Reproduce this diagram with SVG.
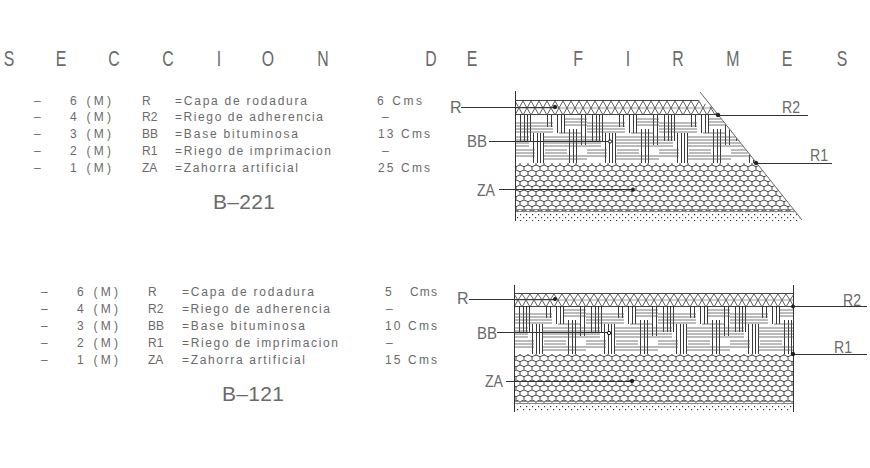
<svg xmlns="http://www.w3.org/2000/svg" width="870" height="468" viewBox="0 0 870 468">
<style>
text{font-family:"Liberation Sans",Arial,sans-serif;fill:#6a6a6a;font-size:12px}
.t{font-size:22px;text-anchor:middle}
.b{font-size:21px}
.l{font-size:16px}
.k{fill:none;stroke:#333;stroke-width:1}
.g{fill:none;stroke:#666;stroke-width:1}
.d{fill:#222;stroke:#111;stroke-width:.8}
.h{fill:#fff;stroke:#111;stroke-width:1}
</style>
<defs>
<pattern id="pR" width="8" height="15" patternUnits="userSpaceOnUse" x="515" y="100">
<path d="M0 1L4 8L8 1M0 15L4 8L8 15" fill="none" stroke="#333" stroke-width=".8"/>
<path d="M0 .5H8M0 14.5H8" stroke="#444" stroke-width="1"/>
<path d="M0 8H8" stroke="#777" stroke-width=".7"/>
</pattern>
<pattern id="pR2" width="8" height="14" patternUnits="userSpaceOnUse" x="514" y="293">
<path d="M0 1L4 7L8 1M0 14L4 7L8 14" fill="none" stroke="#333" stroke-width=".8"/>
<path d="M0 .5H8M0 13.5H8" stroke="#444" stroke-width="1"/>
<path d="M0 7H8" stroke="#777" stroke-width=".7"/>
</pattern>
<pattern id="pH" width="8" height="10" patternUnits="userSpaceOnUse">
<path d="M0 1.67L4 0L8 1.67M0 1.67V5L4 6.67L8 5V1.67M4 6.67V10" fill="none" stroke="#333" stroke-width=".9"/>
</pattern>
<pattern id="pD" width="6" height="6" patternUnits="userSpaceOnUse">
<rect x="1" y="1" width="1.2" height="1.2" fill="#333"/><rect x="4" y="4" width="1.2" height="1.2" fill="#333"/>
</pattern>
<g id="plaid">
<path d="M5.5 0V26M9.5 0V26M12.5 0V26M15.5 0V26M42.5 0V18M46.5 0V18M49.5 0V18M18.5 18V48M22.5 18V48M25.5 18V48M28.5 18V48M54.5 14V48M58.5 14V48M61.5 14V48M32.5 0V12M36.5 0V12M66.5 0V30M70.5 0V30" stroke="#222" stroke-width=".9" fill="none"/>
<path d="M0 8H38M0 11H38M0 14H38M0 17H38M50 4H72M50 7H72M50 10H72M28 22H72M28 25H72M28 28H72M28 31H72M0 22H14M0 25H14M0 28H14M0 31H14M0 35H20M0 38H20M0 41H20M30 35H52M30 38H52M28 41H72M28 44H72M44 18H66" stroke="#555" stroke-width=".8" fill="none"/>
</g>
<pattern id="pB" width="72" height="48" patternUnits="userSpaceOnUse" x="515" y="115"><use href="#plaid"/></pattern>
<pattern id="pB2" width="72" height="48" patternUnits="userSpaceOnUse" x="514" y="306"><use href="#plaid"/></pattern>
<clipPath id="c1"><polygon points="515,90 698,90 698,100 713,108 718,115 802,221 515,221"/></clipPath>
</defs>

<g id="title"><text class="t" transform="scale(.72 1)" x="12.5 84.7 158.3 233.3 304.2 372.2 448.6 527.8 598.6 655.6 729.2 802.8 872.2 941.7 1018 1093 1169.4" y="66">SECCION DE FIRMES</text></g>

<g id="table-b221">
<text x="34" y="104.5">–</text><text x="34" y="121">–</text><text x="34" y="138">–</text><text x="34" y="155">–</text><text x="34" y="172">–</text>
<text x="70" y="104.5" textLength="41">6  (M)</text><text x="70" y="121" textLength="41">4  (M)</text><text x="70" y="138" textLength="41">3  (M)</text><text x="70" y="155" textLength="41">2  (M)</text><text x="70" y="172" textLength="41">1  (M)</text>
<text x="142" y="104.5">R</text><text x="142" y="121">R2</text><text x="142" y="138">BB</text><text x="142" y="155">R1</text><text x="142" y="172">ZA</text>
<text x="175" y="104.5" textLength="132">=Capa de rodadura</text>
<text x="175" y="121" textLength="148">=Riego de adherencia</text>
<text x="175" y="138" textLength="123">=Base bituminosa</text>
<text x="175" y="155" textLength="156">=Riego de imprimacion</text>
<text x="175" y="172" textLength="123">=Zahorra artificial</text>
<text x="377" y="104.5" textLength="45">6 Cms</text><text x="382" y="121">–</text><text x="378" y="138" textLength="52">13 Cms</text><text x="382" y="155">–</text><text x="378" y="172" textLength="52">25 Cms</text>
<text class="b" x="213" y="209" textLength="62">B–221</text>
</g>

<g id="table-b121">
<text x="41" y="296">–</text><text x="41" y="313">–</text><text x="41" y="330">–</text><text x="41" y="347">–</text><text x="41" y="364">–</text>
<text x="77" y="296" textLength="41">6  (M)</text><text x="77" y="313" textLength="41">4  (M)</text><text x="77" y="330" textLength="41">3  (M)</text><text x="77" y="347" textLength="41">2  (M)</text><text x="77" y="364" textLength="41">1  (M)</text>
<text x="148" y="296">R</text><text x="148" y="313">R2</text><text x="148" y="330">BB</text><text x="148" y="347">R1</text><text x="148" y="364">ZA</text>
<text x="182" y="296" textLength="132">=Capa de rodadura</text>
<text x="182" y="313" textLength="148">=Riego de adherencia</text>
<text x="182" y="330" textLength="123">=Base bituminosa</text>
<text x="182" y="347" textLength="156">=Riego de imprimacion</text>
<text x="182" y="364" textLength="123">=Zahorra artificial</text>
<text x="385" y="296">5</text><text x="410" y="296" textLength="27">Cms</text><text x="386" y="313">–</text><text x="385" y="330" textLength="52">10 Cms</text><text x="386" y="347">–</text><text x="385" y="364" textLength="52">15 Cms</text>
<text class="b" x="222" y="401" textLength="62">B–121</text>
</g>

<g id="section-b221">
<g clip-path="url(#c1)">
<rect x="515" y="100" width="300" height="15" fill="url(#pR)"/>
<rect x="515" y="115" width="300" height="48" fill="url(#pB)"/>
<rect x="515" y="163" width="300" height="48" fill="url(#pH)"/>
<rect x="515" y="211" width="300" height="10" fill="url(#pD)"/>
<path d="M515 211.5H800M515 209.5H800" stroke="#888" stroke-width="1"/>
</g>
<path class="k" d="M515.5 91V221"/>
<path class="g" d="M700 92L802 220"/>
</g>

<g id="section-b121">
<rect x="514" y="293" width="279" height="14" fill="url(#pR2)"/>
<rect x="514" y="306" width="279" height="48" fill="url(#pB2)"/>
<rect x="514" y="354" width="279" height="49" fill="url(#pH)"/>
<rect x="514" y="403" width="279" height="9" fill="url(#pD)"/>
<path d="M514 403.5H793M514 401.5H793" stroke="#888" stroke-width="1"/>
<path class="k" d="M514.5 285V412M793.5 285V412"/>
</g>

<g id="connectors">
<path class="k" d="M461 107.5H555M489 141.5H610M499 189.5H633M718 115.5H808M756 163.5H832M469 299.5H555M497 332.5H609M506 381.5H632M793 306.5H867M793 354.5H867"/>
<circle class="d" cx="555" cy="107" r="1.8"/><circle class="h" cx="610" cy="141.5" r="1.6"/><circle class="d" cx="633" cy="189.5" r="1.6"/>
<circle class="d" cx="718" cy="115" r="1.8"/><circle class="d" cx="756" cy="163" r="1.8"/>
<circle class="d" cx="555" cy="299" r="1.6"/><circle class="h" cx="609" cy="333" r="1.7"/><circle class="d" cx="632" cy="381" r="1.8"/>
<circle class="d" cx="793" cy="306.5" r="1.6"/><circle class="d" cx="793" cy="354" r="1.8"/>
</g>

<g id="labels">
<text class="l" x="450" y="113">R</text><text class="l" x="782" y="113" textLength="18" lengthAdjust="spacingAndGlyphs">R2</text><text class="l" x="467" y="147" textLength="20" lengthAdjust="spacingAndGlyphs">BB</text><text class="l" x="810" y="161" textLength="18" lengthAdjust="spacingAndGlyphs">R1</text><text class="l" x="477" y="196" textLength="18" lengthAdjust="spacingAndGlyphs">ZA</text>
<text class="l" x="457" y="304">R</text><text class="l" x="843" y="306" textLength="18" lengthAdjust="spacingAndGlyphs">R2</text><text class="l" x="477" y="339" textLength="20" lengthAdjust="spacingAndGlyphs">BB</text><text class="l" x="834" y="353" textLength="18" lengthAdjust="spacingAndGlyphs">R1</text><text class="l" x="485" y="387" textLength="18" lengthAdjust="spacingAndGlyphs">ZA</text>
</g>
</svg>
